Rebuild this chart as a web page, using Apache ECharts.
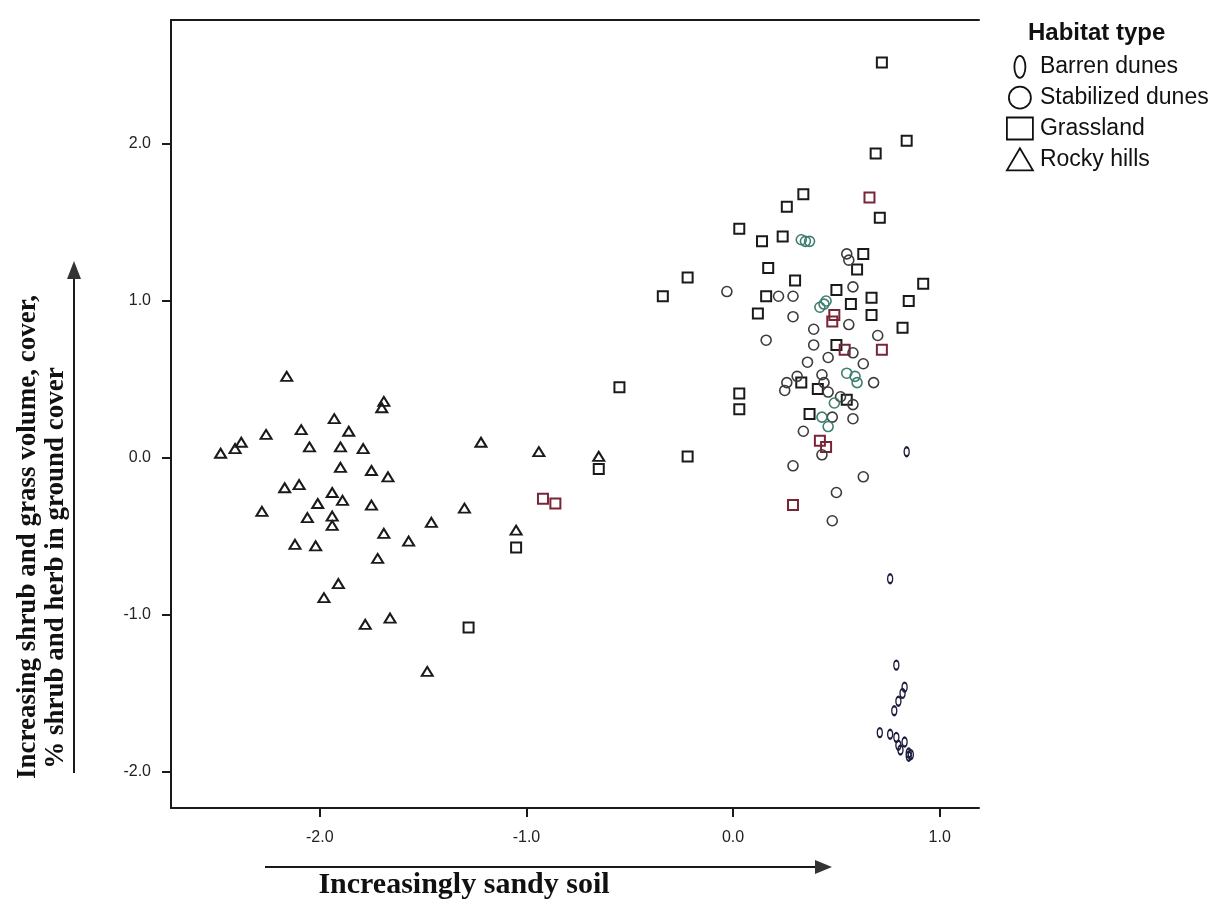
<!DOCTYPE html>
<html>
<head>
<meta charset="utf-8">
<script src="https://cdn.jsdelivr.net/npm/echarts@6/dist/echarts.min.js"></script>
<style>
  html, body { margin: 0; padding: 0; background: #ffffff; }
  #chart { width: 1220px; height: 904px; }
</style>
</head>
<body>
<div id="chart"></div>
<script>
// ---- Data ----
const habitatTypes = ['Barren dunes', 'Stabilized dunes', 'Grassland', 'Rocky hills'];
const xTicks = [-2, -1, 0, 1];
const yTicks = [-2, -1, 0, 1, 2];

const barrenDunes = [
  [0.84, 0.04], [0.76, -0.77], [0.79, -1.32], [0.83, -1.46], [0.82, -1.50], [0.80, -1.55],
  [0.78, -1.61], [0.71, -1.75], [0.76, -1.76], [0.79, -1.78], [0.83, -1.81], [0.80, -1.83],
  [0.81, -1.86], [0.85, -1.88], [0.86, -1.89], [0.85, -1.90]
];

const stabilizedDunes = [
  [-0.03, 1.06], [0.16, 0.75], [0.55, 1.30], [0.56, 1.26], [0.22, 1.03], [0.29, 1.03],
  [0.58, 1.09], [0.29, 0.90], [0.56, 0.85], [0.39, 0.82], [0.70, 0.78], [0.39, 0.72],
  [0.58, 0.67], [0.46, 0.64], [0.36, 0.61], [0.63, 0.60], [0.68, 0.48], [0.26, 0.48],
  [0.31, 0.52], [0.25, 0.43], [0.43, 0.53], [0.44, 0.48], [0.46, 0.42], [0.52, 0.39],
  [0.58, 0.34], [0.48, 0.26], [0.58, 0.25], [0.34, 0.17], [0.43, 0.02], [0.29, -0.05],
  [0.63, -0.12], [0.50, -0.22], [0.48, -0.40]
];
const stabilizedDunesTinted = [
  [0.33, 1.39], [0.35, 1.38], [0.37, 1.38], [0.42, 0.96], [0.44, 0.98], [0.45, 1.00],
  [0.55, 0.54], [0.59, 0.52], [0.60, 0.48], [0.49, 0.35], [0.43, 0.26], [0.46, 0.20]
];

const grassland = [
  [-1.05, -0.57], [-1.28, -1.08], [-0.22, 1.15], [-0.34, 1.03], [0.17, 1.21], [0.16, 1.03],
  [0.12, 0.92], [-0.55, 0.45], [0.03, 0.41], [0.03, 0.31], [-0.22, 0.01], [-0.65, -0.07],
  [0.72, 2.52], [0.84, 2.02], [0.69, 1.94], [0.34, 1.68], [0.26, 1.60], [0.71, 1.53],
  [0.03, 1.46], [0.24, 1.41], [0.14, 1.38], [0.63, 1.30], [0.60, 1.20], [0.30, 1.13],
  [0.92, 1.11], [0.50, 1.07], [0.67, 1.02], [0.85, 1.00], [0.57, 0.98], [0.67, 0.91],
  [0.82, 0.83], [0.50, 0.72], [0.33, 0.48], [0.41, 0.44], [0.55, 0.37], [0.37, 0.28]
];
const grasslandTinted = [
  [-0.92, -0.26], [-0.86, -0.29], [0.66, 1.66], [0.49, 0.91], [0.48, 0.87], [0.54, 0.69],
  [0.72, 0.69], [0.42, 0.11], [0.45, 0.07], [0.29, -0.30]
];

const rockyHills = [
  [-2.16, 0.52], [-1.69, 0.36], [-1.70, 0.32], [-1.93, 0.25], [-2.26, 0.15], [-2.09, 0.18],
  [-1.86, 0.17], [-2.38, 0.10], [-2.41, 0.06], [-2.48, 0.03], [-2.05, 0.07], [-1.90, 0.07],
  [-1.79, 0.06], [-1.22, 0.10], [-0.94, 0.04], [-1.90, -0.06], [-1.75, -0.08], [-1.67, -0.12],
  [-2.17, -0.19], [-2.10, -0.17], [-1.94, -0.22], [-1.89, -0.27], [-2.01, -0.29], [-1.75, -0.30],
  [-2.28, -0.34], [-2.06, -0.38], [-1.94, -0.37], [-1.94, -0.43], [-1.30, -0.32], [-1.46, -0.41],
  [-1.69, -0.48], [-2.12, -0.55], [-2.02, -0.56], [-1.57, -0.53], [-1.72, -0.64], [-1.05, -0.46],
  [-1.91, -0.80], [-1.98, -0.89], [-1.66, -1.02], [-1.78, -1.06], [-1.48, -1.36], [-0.65, 0.01]
];

const xTitle = 'Increasingly sandy soil';
const yTitleLine1 = 'Increasing shrub and grass volume, cover,';
const yTitleLine2 = '% shrub and herb in ground cover';
const legendTitle = 'Habitat type';

// ---- Chart ----
const ellipsePath = 'path://M5,0 A5,10 0 1,1 5,20 A5,10 0 1,1 5,0 Z';
const AX = '#1a1a1a';
const X_MIN = -2.72, X_MAX = 1.19, Y_MIN = -2.23, Y_MAX = 2.79;
const fmt = v => Number(v).toFixed(1);

function scatter(name, data, symbol, size, color, bw) {
  return {
    name: name, type: 'scatter', data: data, symbol: symbol, symbolSize: size,
    symbolKeepAspect: false,
    itemStyle: { color: 'rgba(0,0,0,0)', borderColor: color, borderWidth: bw, opacity: 1 },
    emphasis: { disabled: true }
  };
}

const chart = echarts.init(document.getElementById('chart'), null, { renderer: 'canvas' });
const legendItem = { color: 'rgba(0,0,0,0)', borderColor: '#111', borderWidth: 1.8 };

chart.setOption({
  animation: false,
  backgroundColor: '#ffffff',
  title: {
    text: legendTitle, left: 1023, top: 16, padding: 5,
    textStyle: { fontSize: 24, fontWeight: 'bold', fontFamily: 'Liberation Sans', color: '#111' }
  },
  legend: {
    orient: 'vertical', left: 1006, top: 55, padding: 0,
    itemWidth: 26, itemHeight: 22, itemGap: 7, selectedMode: false,
    textStyle: { fontSize: 23, color: '#111', fontFamily: 'Liberation Sans', padding: [0, 0, 0, 2] },
    data: [
      { name: habitatTypes[0], icon: ellipsePath, itemStyle: legendItem },
      { name: habitatTypes[1], icon: 'circle', itemStyle: legendItem },
      { name: habitatTypes[2], icon: 'rect', itemStyle: legendItem },
      { name: habitatTypes[3], icon: 'triangle', itemStyle: legendItem }
    ]
  },
  grid: { left: 171, top: 20, width: 808, height: 788, containLabel: false },
  xAxis: [
    {
      type: 'value', position: 'bottom', min: X_MIN, max: X_MAX,
      axisLine: { show: true, onZero: false, lineStyle: { color: AX, width: 2 } },
      axisTick: { show: true, length: 9, customValues: xTicks, lineStyle: { color: AX, width: 2 } },
      axisLabel: { customValues: xTicks, formatter: fmt, fontSize: 16, color: '#222', margin: 22, fontFamily: 'Liberation Sans' },
      splitLine: { show: false }
    },
    {
      type: 'value', position: 'top', min: X_MIN, max: X_MAX,
      axisLine: { show: true, onZero: false, lineStyle: { color: AX, width: 2 } },
      axisTick: { show: false }, axisLabel: { show: false }, splitLine: { show: false }
    }
  ],
  yAxis: {
    type: 'value', position: 'left', min: Y_MIN, max: Y_MAX,
    axisLine: { show: true, onZero: false, lineStyle: { color: AX, width: 2 } },
    axisTick: { show: true, length: 9, customValues: yTicks, lineStyle: { color: AX, width: 2 } },
    axisLabel: { customValues: yTicks, formatter: fmt, fontSize: 16, color: '#222', margin: 20, fontFamily: 'Liberation Sans' },
    splitLine: { show: false }
  },
  series: [
    scatter(habitatTypes[3], rockyHills, 'triangle', [11, 9], '#1a1a1a', 2),
    scatter(habitatTypes[2], grassland, 'rect', 10, '#1a1a1a', 2),
    scatter(habitatTypes[2], grasslandTinted, 'rect', 10, '#7a2438', 2),
    scatter(habitatTypes[1], stabilizedDunes, 'circle', 10, '#3c3c3c', 1.6),
    scatter(habitatTypes[1], stabilizedDunesTinted, 'circle', 10, '#3e7f70', 1.6),
    scatter(habitatTypes[0], barrenDunes, ellipsePath, [5, 9], '#1d1d40', 1.8)
  ],
  graphic: [
    { type: 'line', shape: { x1: 265, y1: 867, x2: 818, y2: 867 }, style: { stroke: '#1a1a1a', lineWidth: 2 } },
    { type: 'polygon', shape: { points: [[832, 867], [815, 860], [815, 874]] }, style: { fill: '#333' } },
    { type: 'text', x: 464, y: 885, style: { text: xTitle, fontFamily: 'Liberation Serif', fontWeight: 'bold', fontSize: 30, fill: '#111', align: 'center', verticalAlign: 'middle' } },
    { type: 'line', shape: { x1: 74, y1: 276, x2: 74, y2: 773 }, style: { stroke: '#1a1a1a', lineWidth: 2 } },
    { type: 'polygon', shape: { points: [[74, 261], [67, 279], [81, 279]] }, style: { fill: '#333' } },
    { type: 'text', x: 28, y: 537, rotation: Math.PI / 2, style: { text: yTitleLine1, fontFamily: 'Liberation Serif', fontWeight: 'bold', fontSize: 27, fill: '#111', align: 'center', verticalAlign: 'middle' } },
    { type: 'text', x: 56, y: 568, rotation: Math.PI / 2, style: { text: yTitleLine2, fontFamily: 'Liberation Serif', fontWeight: 'bold', fontSize: 27, fill: '#111', align: 'center', verticalAlign: 'middle' } }
  ]
});
</script>
</body>
</html>
